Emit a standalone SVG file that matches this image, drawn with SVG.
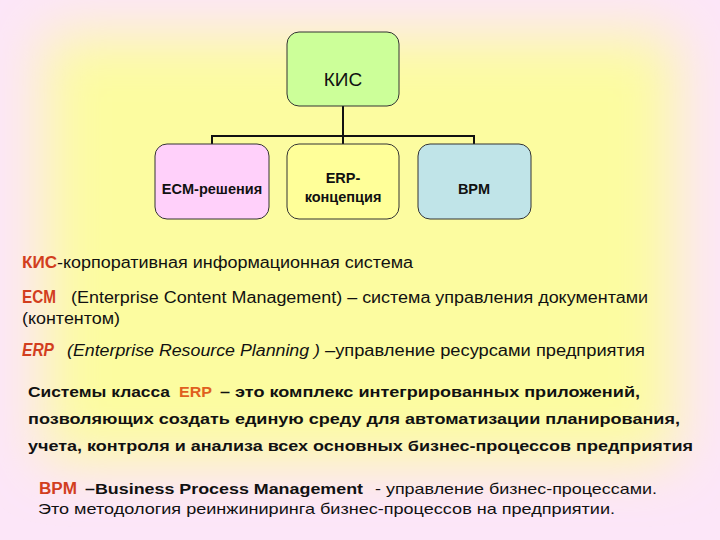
<svg xmlns="http://www.w3.org/2000/svg" width="720" height="540" viewBox="0 0 720 540">
<defs>
<filter id="blur" x="-30%" y="-30%" width="160%" height="160%"><feGaussianBlur stdDeviation="28"/></filter>
<style>
.box{stroke:#333;stroke-width:1}
.lbl{font-family:"Liberation Sans",Arial,sans-serif;fill:#111;text-anchor:middle}
.b{font-weight:bold}
.t{font-family:"Liberation Sans",Arial,sans-serif;fill:#111}
.red{fill:#d23e1e;font-weight:bold}
.conn{stroke:#111;stroke-width:2;fill:none}
</style>
</defs>
<rect width="720" height="540" fill="#fce6f8"/>
<rect x="45" y="35" width="630" height="425" fill="#fcfca0" filter="url(#blur)"/>

<g id="connectors">
<path class="conn" d="M343 106 V136 M212 136 H474 M212 135 V144 M343 136 V144 M474 135 V144"/>
</g>

<g id="kis">
<rect class="box" x="287" y="32" width="112" height="74" rx="12" fill="#ccff99"/>
<text class="lbl" x="343" y="86" font-size="19">КИС</text>
</g>
<g id="ecm">
<rect class="box" x="155" y="144" width="114" height="75" rx="12" fill="#ffd0fa"/>
<text class="lbl b" x="212" y="194" font-size="14.5">ECM-решения</text>
</g>
<g id="erp">
<rect class="box" x="287" y="144" width="112" height="75" rx="12" fill="#ffff99"/>
<text class="lbl b" x="343" y="183" font-size="14.5">ERP-</text>
<text class="lbl b" x="343" y="202" font-size="14.5">концепция</text>
</g>
<g id="bpm">
<rect class="box" x="418" y="144" width="113" height="75" rx="12" fill="#c0e4e8"/>
<text class="lbl b" x="474" y="194" font-size="14.5">BPM</text>
</g>

<g id="texts">
<text class="t" y="268" font-size="16"><tspan class="red" x="22" textLength="35" lengthAdjust="spacingAndGlyphs">КИС</tspan><tspan x="57" textLength="356" lengthAdjust="spacingAndGlyphs">-корпоративная информационная система</tspan></text>
<text class="t" y="303" font-size="16"><tspan class="red" x="22" font-size="18" textLength="34" lengthAdjust="spacingAndGlyphs">ECM</tspan><tspan x="71" textLength="577" lengthAdjust="spacingAndGlyphs">(Enterprise Content Management) – система управления документами</tspan></text>
<text class="t" x="22" y="324" font-size="16" textLength="98" lengthAdjust="spacingAndGlyphs">(контентом)</text>
<text class="t" y="356" font-size="16"><tspan class="red" x="22" font-size="18" font-style="italic" textLength="32" lengthAdjust="spacingAndGlyphs">ERP</tspan><tspan x="67" font-style="italic" textLength="253" lengthAdjust="spacingAndGlyphs">(Enterprise Resource Planning )</tspan><tspan x="325" textLength="320" lengthAdjust="spacingAndGlyphs">–управление ресурсами предприятия</tspan></text>
<text class="t b" y="397" font-size="15"><tspan x="28" textLength="142" lengthAdjust="spacingAndGlyphs">Системы класса</tspan><tspan x="179" fill="#e0601e" textLength="33" lengthAdjust="spacingAndGlyphs">ERP</tspan><tspan x="220" textLength="420" lengthAdjust="spacingAndGlyphs">– это комплекс интегрированных приложений,</tspan></text>
<text class="t b" x="28" y="424" font-size="15" textLength="652" lengthAdjust="spacingAndGlyphs">позволяющих создать единую среду для автоматизации планирования,</text>
<text class="t b" x="28" y="451" font-size="15" textLength="665" lengthAdjust="spacingAndGlyphs">учета, контроля и анализа всех основных бизнес-процессов предприятия</text>
<text class="t" y="494" font-size="15"><tspan class="red" x="39" font-size="16" textLength="38" lengthAdjust="spacingAndGlyphs">BPM</tspan><tspan x="85" font-weight="bold" textLength="278" lengthAdjust="spacingAndGlyphs">–Business Process Management</tspan><tspan x="375" textLength="282" lengthAdjust="spacingAndGlyphs">- управление бизнес-процессами.</tspan></text>
<text class="t" x="38" y="514" font-size="15" textLength="577" lengthAdjust="spacingAndGlyphs">Это методология реинжиниринга бизнес-процессов на предприятии.</text>
</g>
</svg>
